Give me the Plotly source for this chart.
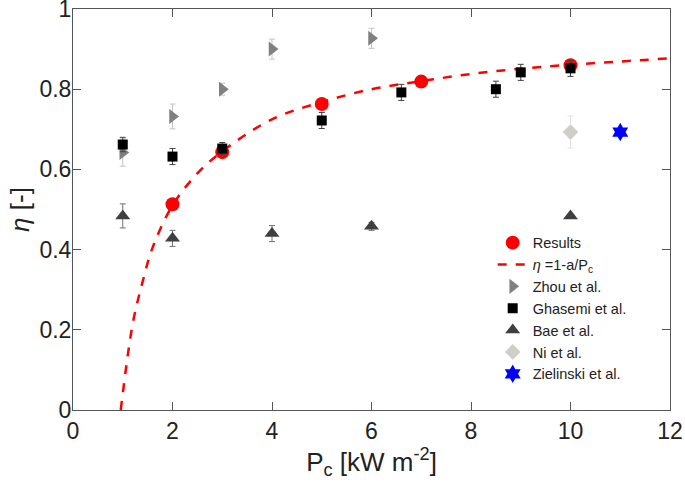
import plotly.graph_objects as go

# Results (this work)
res_p = [2, 3, 5, 7, 10]
res_eta = [0.513, 0.643, 0.763, 0.819, 0.86]

# fitted curve eta = 1 - a/Pc
fit_p = [0.96, 1.2, 1.4, 1.6, 2, 2.5, 3, 4, 5, 6, 7, 8, 9, 10, 11, 12]
fit_eta = [0.0, 0.215, 0.32, 0.405, 0.51, 0.59, 0.645, 0.725, 0.768, 0.80, 0.82, 0.838, 0.851, 0.861, 0.869, 0.877]

# literature
zhou_p = [1, 2, 3, 4, 6]
zhou_eta = [0.642, 0.732, 0.80, 0.90, 0.927]
zhou_err = [0.034, 0.031, 0.015, 0.025, 0.025]

ghasemi_p = [1, 2, 3, 5, 6.6, 8.5, 9, 10]
ghasemi_eta = [0.662, 0.632, 0.652, 0.722, 0.792, 0.80, 0.842, 0.852]
ghasemi_err = [0.018, 0.02, 0.015, 0.02, 0.02, 0.02, 0.02, 0.02]

bae_p = [1, 2, 4, 6, 10]
bae_eta = [0.484, 0.428, 0.44, 0.458, 0.484]
bae_err = [0.03, 0.02, 0.02, 0.01, 0.0]

ni_p = [10]
ni_eta = [0.693]
ni_err = [0.04]

ziel_p = [11]
ziel_eta = [0.693]

x_ticks = [0, 2, 4, 6, 8, 10, 12]
y_ticks = [0, 0.2, 0.4, 0.6, 0.8, 1]
y_labels = ["0", "0.2", "0.4", "0.6", "0.8", "1"]

fig = go.Figure()

fig.add_trace(
    go.Scatter(
        x=res_p,
        y=res_eta,
        mode="markers",
        name="Results",
        marker=dict(symbol="circle", size=14, color="#ff0000"),
    )
)

fig.add_trace(
    go.Scatter(
        x=fit_p,
        y=fit_eta,
        mode="lines",
        name="<i>η</i> =1-a/P<sub>c</sub>",
        line=dict(color="#ff0000", width=2.5, dash="dash", shape="spline"),
    )
)

fig.add_trace(
    go.Scatter(
        x=zhou_p,
        y=zhou_eta,
        mode="markers",
        name="Zhou et al.",
        marker=dict(symbol="triangle-right", size=13, color="#808080"),
        error_y=dict(type="data", array=zhou_err, color="#c4c4c4", thickness=1, width=3),
    )
)

fig.add_trace(
    go.Scatter(
        x=ghasemi_p,
        y=ghasemi_eta,
        mode="markers",
        name="Ghasemi et al.",
        marker=dict(symbol="square", size=10, color="#000000"),
        error_y=dict(type="data", array=ghasemi_err, color="#404040", thickness=1, width=3),
    )
)

fig.add_trace(
    go.Scatter(
        x=bae_p,
        y=bae_eta,
        mode="markers",
        name="Bae et al.",
        marker=dict(symbol="triangle-up", size=13, color="#3f3f3f"),
        error_y=dict(type="data", array=bae_err, color="#707070", thickness=1, width=3),
    )
)

fig.add_trace(
    go.Scatter(
        x=ni_p,
        y=ni_eta,
        mode="markers",
        name="Ni et al.",
        marker=dict(symbol="diamond", size=12, color="#d0cec8"),
        error_y=dict(type="data", array=ni_err, color="#e2e2e2", thickness=1, width=3),
    )
)

fig.add_trace(
    go.Scatter(
        x=ziel_p,
        y=ziel_eta,
        mode="markers",
        name="Zielinski et al.",
        marker=dict(symbol="hexagram", size=14, color="#0000ff"),
    )
)

axis_style = dict(
    showgrid=False,
    zeroline=False,
    showline=True,
    linecolor="#555555",
    linewidth=1,
    mirror="ticks",
    ticks="inside",
    ticklen=8,
    tickcolor="#555555",
    tickfont=dict(size=23, color="#222222"),
    ticklabeloverflow="allow",
    automargin=False,
)

fig.update_layout(
    width=685,
    height=483,
    margin=dict(l=73, r=15, t=9, b=73),
    paper_bgcolor="white",
    plot_bgcolor="white",
    font=dict(family="Liberation Sans, Arial, sans-serif", color="#222222"),
    xaxis=dict(
        range=[0, 12],
        tickmode="array",
        tickvals=x_ticks,
        title=dict(text="P<sub>c</sub> [kW m<sup>-2</sup>]", font=dict(size=26), standoff=2),
        **axis_style,
    ),
    yaxis=dict(
        range=[0, 1],
        tickmode="array",
        tickvals=y_ticks,
        ticktext=y_labels,
        ticklabelstandoff=-4,
        title=dict(text="<i>η</i> [-]", font=dict(size=26), standoff=2),
        **axis_style,
    ),
    legend=dict(
        x=0.703,
        y=0.457,
        xanchor="left",
        yanchor="top",
        bgcolor="rgba(255,255,255,0)",
        font=dict(size=14.5, color="#222222"),
        itemwidth=30,
        tracegroupgap=0,
    ),
    showlegend=True,
)

# page body has a default 8px margin; drop it so the figure sits at the corner
fig.write_html(
    "out.html",
    config={"displayModeBar": False},
    post_script="document.body.style.margin='0';",
)
